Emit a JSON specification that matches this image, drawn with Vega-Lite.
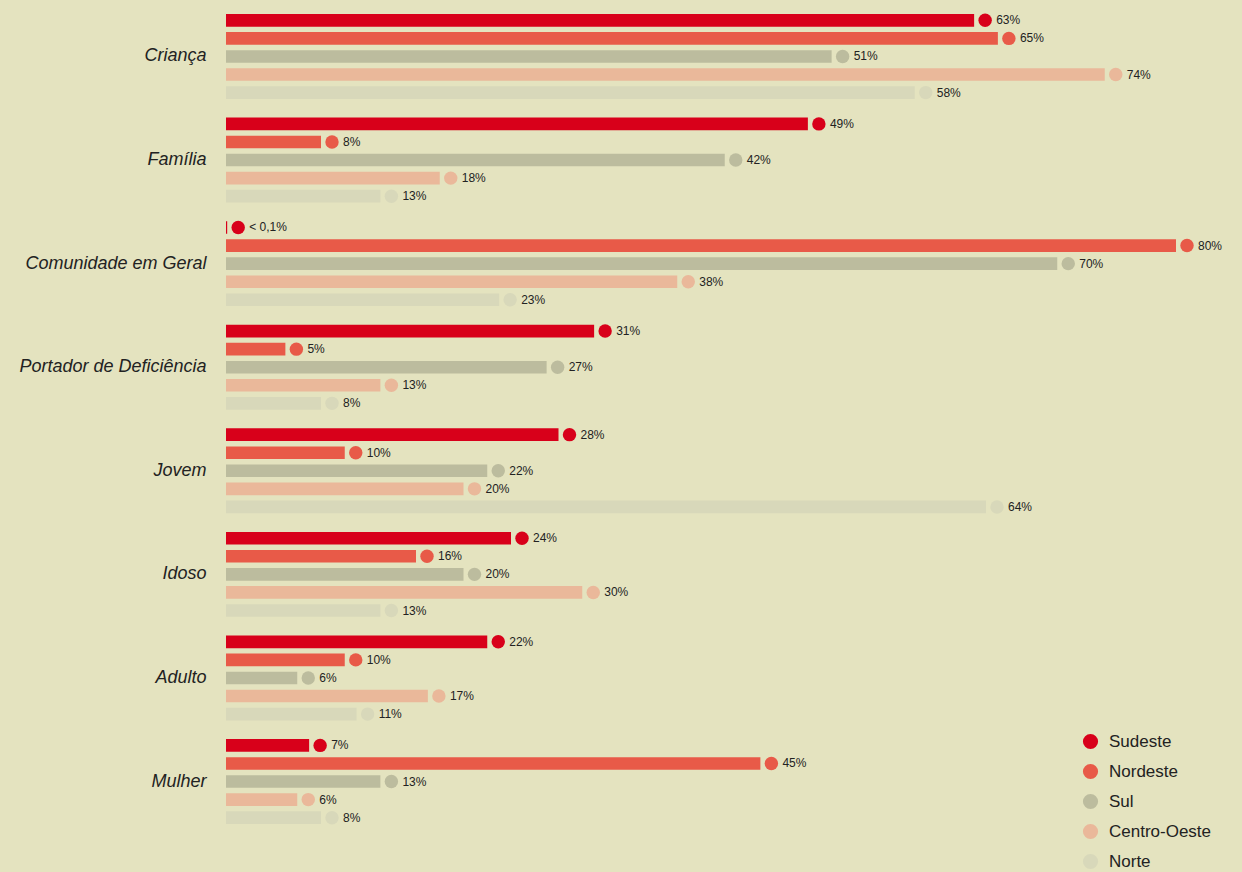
{
  "$schema": "https://vega.github.io/schema/vega-lite/v6.json",
  "width": 950,
  "height": 810,
  "autosize": {"type": "none"},
  "padding": {"left": 226, "top": 14, "right": 66, "bottom": 48},
  "background": "#e4e3bf",
  "config": {"view": {"stroke": null}, "font": "Liberation Sans"},
  "data": {
    "values": [
      {"categoria": "Criança", "regiao": "Sudeste", "valor": 63, "rotulo": "63%"},
      {"categoria": "Criança", "regiao": "Nordeste", "valor": 65, "rotulo": "65%"},
      {"categoria": "Criança", "regiao": "Sul", "valor": 51, "rotulo": "51%"},
      {"categoria": "Criança", "regiao": "Centro-Oeste", "valor": 74, "rotulo": "74%"},
      {"categoria": "Criança", "regiao": "Norte", "valor": 58, "rotulo": "58%"},
      {"categoria": "Família", "regiao": "Sudeste", "valor": 49, "rotulo": "49%"},
      {"categoria": "Família", "regiao": "Nordeste", "valor": 8, "rotulo": "8%"},
      {"categoria": "Família", "regiao": "Sul", "valor": 42, "rotulo": "42%"},
      {"categoria": "Família", "regiao": "Centro-Oeste", "valor": 18, "rotulo": "18%"},
      {"categoria": "Família", "regiao": "Norte", "valor": 13, "rotulo": "13%"},
      {"categoria": "Comunidade em Geral", "regiao": "Sudeste", "valor": 0.1, "rotulo": "< 0,1%"},
      {"categoria": "Comunidade em Geral", "regiao": "Nordeste", "valor": 80, "rotulo": "80%"},
      {"categoria": "Comunidade em Geral", "regiao": "Sul", "valor": 70, "rotulo": "70%"},
      {"categoria": "Comunidade em Geral", "regiao": "Centro-Oeste", "valor": 38, "rotulo": "38%"},
      {"categoria": "Comunidade em Geral", "regiao": "Norte", "valor": 23, "rotulo": "23%"},
      {"categoria": "Portador de Deficiência", "regiao": "Sudeste", "valor": 31, "rotulo": "31%"},
      {"categoria": "Portador de Deficiência", "regiao": "Nordeste", "valor": 5, "rotulo": "5%"},
      {"categoria": "Portador de Deficiência", "regiao": "Sul", "valor": 27, "rotulo": "27%"},
      {"categoria": "Portador de Deficiência", "regiao": "Centro-Oeste", "valor": 13, "rotulo": "13%"},
      {"categoria": "Portador de Deficiência", "regiao": "Norte", "valor": 8, "rotulo": "8%"},
      {"categoria": "Jovem", "regiao": "Sudeste", "valor": 28, "rotulo": "28%"},
      {"categoria": "Jovem", "regiao": "Nordeste", "valor": 10, "rotulo": "10%"},
      {"categoria": "Jovem", "regiao": "Sul", "valor": 22, "rotulo": "22%"},
      {"categoria": "Jovem", "regiao": "Centro-Oeste", "valor": 20, "rotulo": "20%"},
      {"categoria": "Jovem", "regiao": "Norte", "valor": 64, "rotulo": "64%"},
      {"categoria": "Idoso", "regiao": "Sudeste", "valor": 24, "rotulo": "24%"},
      {"categoria": "Idoso", "regiao": "Nordeste", "valor": 16, "rotulo": "16%"},
      {"categoria": "Idoso", "regiao": "Sul", "valor": 20, "rotulo": "20%"},
      {"categoria": "Idoso", "regiao": "Centro-Oeste", "valor": 30, "rotulo": "30%"},
      {"categoria": "Idoso", "regiao": "Norte", "valor": 13, "rotulo": "13%"},
      {"categoria": "Adulto", "regiao": "Sudeste", "valor": 22, "rotulo": "22%"},
      {"categoria": "Adulto", "regiao": "Nordeste", "valor": 10, "rotulo": "10%"},
      {"categoria": "Adulto", "regiao": "Sul", "valor": 6, "rotulo": "6%"},
      {"categoria": "Adulto", "regiao": "Centro-Oeste", "valor": 17, "rotulo": "17%"},
      {"categoria": "Adulto", "regiao": "Norte", "valor": 11, "rotulo": "11%"},
      {"categoria": "Mulher", "regiao": "Sudeste", "valor": 7, "rotulo": "7%"},
      {"categoria": "Mulher", "regiao": "Nordeste", "valor": 45, "rotulo": "45%"},
      {"categoria": "Mulher", "regiao": "Sul", "valor": 13, "rotulo": "13%"},
      {"categoria": "Mulher", "regiao": "Centro-Oeste", "valor": 6, "rotulo": "6%"},
      {"categoria": "Mulher", "regiao": "Norte", "valor": 8, "rotulo": "8%"}
    ]
  },
  "encoding": {
    "y": {
      "field": "categoria",
      "type": "nominal",
      "sort": ["Criança", "Família", "Comunidade em Geral", "Portador de Deficiência", "Jovem", "Idoso", "Adulto", "Mulher"],
      "scale": {"paddingInner": 0.18, "paddingOuter": 0},
      "axis": {"title": null, "domain": false, "ticks": false, "labelFontStyle": "italic", "labelFontSize": 18, "labelColor": "#222222", "labelPadding": 20, "labelLimit": 0}
    },
    "yOffset": {
      "field": "regiao",
      "type": "nominal",
      "sort": ["Sudeste", "Nordeste", "Sul", "Centro-Oeste", "Norte"],
      "scale": {"paddingInner": 0.3, "paddingOuter": 0}
    },
    "x": {"field": "valor", "type": "quantitative", "scale": {"domain": [0, 80]}, "axis": null}
  },
  "layer": [
    {
      "mark": {"type": "bar"},
      "encoding": {
        "color": {
          "field": "regiao",
          "type": "nominal",
          "scale": {
            "domain": ["Sudeste", "Nordeste", "Sul", "Centro-Oeste", "Norte"],
            "range": ["#d8001a", "#e85a48", "#bcbc9e", "#eab89a", "#d8d8ba"]
          },
          "legend": {
            "orient": "none", "legendX": 856, "legendY": 719, "title": null,
            "symbolType": "circle", "symbolSize": 230, "symbolStrokeWidth": 0,
            "labelFontSize": 17, "labelColor": "#222222", "rowPadding": 12, "labelOffset": 10
          }
        }
      }
    },
    {
      "mark": {"type": "point", "filled": true, "opacity": 1, "size": 180, "xOffset": 11},
      "encoding": {
        "color": {"field": "regiao", "type": "nominal"}
      }
    },
    {
      "mark": {"type": "text", "align": "left", "baseline": "middle", "dx": 22, "fontSize": 12, "color": "#222222"},
      "encoding": {"text": {"field": "rotulo"}}
    }
  ]
}
